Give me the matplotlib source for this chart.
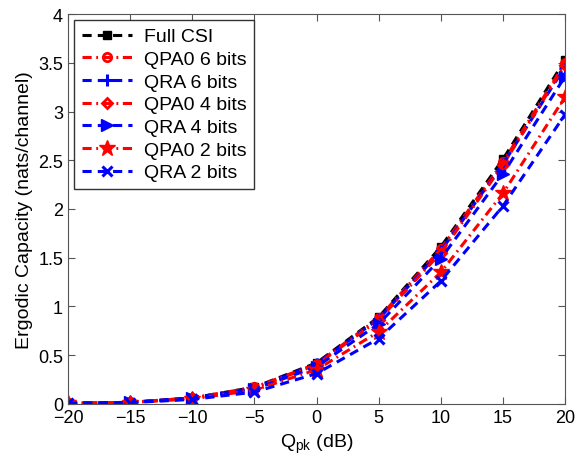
import matplotlib
matplotlib.use('Agg')
import matplotlib.pyplot as plt

plt.rcParams['font.family'] = ['Liberation Sans', 'DejaVu Sans']

# данные
Qpk = [-20, -15, -10, -5, 0, 5, 10, 15, 20]

full_csi = [0.005, 0.015, 0.06, 0.17, 0.42, 0.89, 1.61, 2.51, 3.53]
qpa0_6 = [0.005, 0.015, 0.06, 0.17, 0.41, 0.88, 1.59, 2.48, 3.50]
qra_6 = [0.005, 0.015, 0.06, 0.16, 0.41, 0.87, 1.57, 2.46, 3.46]
qpa0_4 = [0.005, 0.015, 0.06, 0.16, 0.40, 0.86, 1.55, 2.45, 3.48]
qra_4 = [0.005, 0.014, 0.055, 0.15, 0.38, 0.82, 1.49, 2.36, 3.36]
qpa0_2 = [0.004, 0.013, 0.05, 0.14, 0.35, 0.74, 1.35, 2.16, 3.15]
qra_2 = [0.004, 0.012, 0.045, 0.12, 0.31, 0.67, 1.26, 2.03, 2.97]

plt.figure(figsize=(5.76, 4.6), dpi=100)
ax = plt.axes([0.118, 0.12, 0.863, 0.847])

lw = 2.2
dash = (0, (3, 2))
dashdot = (0, (3, 1.5, 0.6, 1.5))
ax.plot(Qpk, full_csi, color='k', ls=dash, marker='s', lw=lw, ms=6, label='Full CSI')
ax.plot(Qpk, qpa0_6, color='r', ls=dashdot, marker='o', mfc='none', mew=2, lw=lw, ms=6, label='QPA0 6 bits')
ax.plot(Qpk, qra_6, color='b', ls=dash, marker='+', mew=2.2, lw=lw, ms=9, label='QRA 6 bits')
ax.plot(Qpk, qpa0_4, color='r', ls=dashdot, marker='D', mfc='none', mew=2, lw=lw, ms=5.5, label='QPA0 4 bits')
ax.plot(Qpk, qra_4, color='b', ls=dash, marker='>', lw=lw, ms=8, label='QRA 4 bits')
ax.plot(Qpk, qpa0_2, color='r', ls=dashdot, marker='*', lw=lw, ms=12, label='QPA0 2 bits')
ax.plot(Qpk, qra_2, color='b', ls=dash, marker='x', mew=2.2, lw=lw, ms=7, label='QRA 2 bits')

ax.set_xlim(-20, 20)
ax.set_ylim(0, 4)
ax.set_xticks(Qpk)
ax.set_xticklabels(['\u221220', '\u221215', '\u221210', '\u22125', '0', '5', '10', '15', '20'])
ax.set_yticks([0, 0.5, 1, 1.5, 2, 2.5, 3, 3.5, 4])
ax.set_yticklabels(['0', '0.5', '1', '1.5', '2', '2.5', '3', '3.5', '4'])
ax.tick_params(direction='in', labelsize=13, length=5, top=True, right=True, color='#555555')
for s in ax.spines.values():
    s.set_color('#555555')
ax.set_xlabel('Q$_{\\mathregular{pk}}$ (dB)', fontsize=14)
ax.set_ylabel('Ergodic Capacity (nats/channel)', fontsize=14)
ax.legend(loc='upper left', fontsize=14, handlelength=2.6, handletextpad=0.6,
          fancybox=False, edgecolor='#333333', framealpha=1, borderaxespad=0.3,
          labelspacing=0.26, borderpad=0.4)

plt.savefig('out.png', dpi=100)
